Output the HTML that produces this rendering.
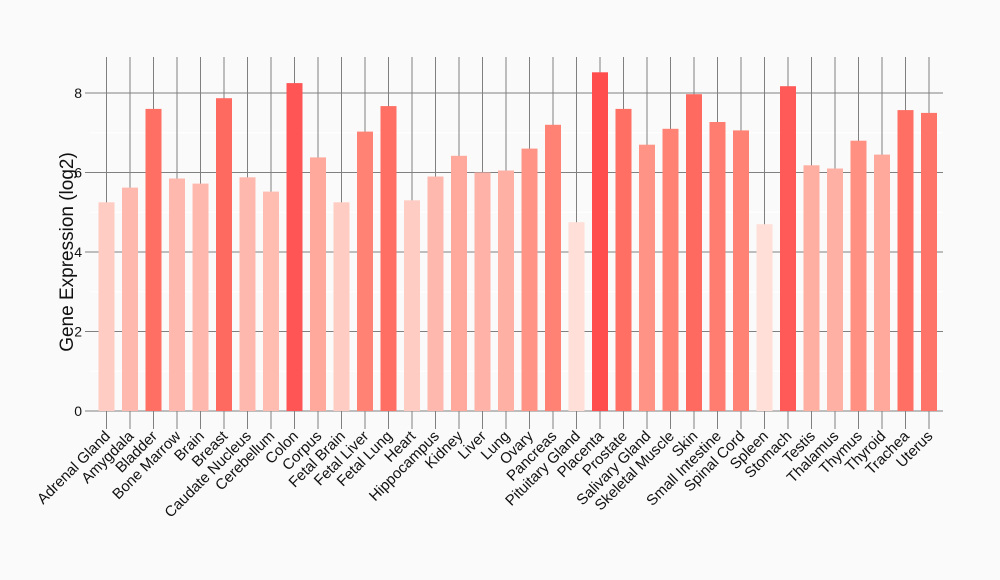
<!DOCTYPE html>
<html><head><meta charset="utf-8"><style>body{margin:0;background:#fafafa}svg{display:block}</style></head>
<body>
<svg width="1000" height="580" xmlns="http://www.w3.org/2000/svg" font-family="Liberation Sans, Arial, sans-serif">
<rect width="1000" height="580" fill="#fafafa"/>
<g stroke="#ffffff" stroke-width="1">
<line x1="90" x2="943" y1="371.25" y2="371.25"/><line x1="90" x2="943" y1="291.75" y2="291.75"/><line x1="90" x2="943" y1="212.25" y2="212.25"/><line x1="90" x2="943" y1="132.75" y2="132.75"/>
</g>
<g stroke="#808080" stroke-width="1">
<line x1="90" x2="943" y1="411" y2="411"/><line x1="90" x2="943" y1="331.5" y2="331.5"/><line x1="90" x2="943" y1="252" y2="252"/><line x1="90" x2="943" y1="172.5" y2="172.5"/><line x1="90" x2="943" y1="93" y2="93"/>
<line x1="85" x2="90" y1="411" y2="411"/><line x1="85" x2="90" y1="331.5" y2="331.5"/><line x1="85" x2="90" y1="252" y2="252"/><line x1="85" x2="90" y1="172.5" y2="172.5"/><line x1="85" x2="90" y1="93" y2="93"/>
<line x1="106.5" x2="106.5" y1="57" y2="429"/><line x1="130" x2="130" y1="57" y2="429"/><line x1="153.5" x2="153.5" y1="57" y2="429"/><line x1="177" x2="177" y1="57" y2="429"/><line x1="200.5" x2="200.5" y1="57" y2="429"/><line x1="224" x2="224" y1="57" y2="429"/><line x1="247.5" x2="247.5" y1="57" y2="429"/><line x1="271" x2="271" y1="57" y2="429"/><line x1="294.5" x2="294.5" y1="57" y2="429"/><line x1="318" x2="318" y1="57" y2="429"/><line x1="341.5" x2="341.5" y1="57" y2="429"/><line x1="365" x2="365" y1="57" y2="429"/><line x1="388.5" x2="388.5" y1="57" y2="429"/><line x1="412" x2="412" y1="57" y2="429"/><line x1="435.5" x2="435.5" y1="57" y2="429"/><line x1="459" x2="459" y1="57" y2="429"/><line x1="482.5" x2="482.5" y1="57" y2="429"/><line x1="506" x2="506" y1="57" y2="429"/><line x1="529.5" x2="529.5" y1="57" y2="429"/><line x1="553" x2="553" y1="57" y2="429"/><line x1="576.5" x2="576.5" y1="57" y2="429"/><line x1="600" x2="600" y1="57" y2="429"/><line x1="623.5" x2="623.5" y1="57" y2="429"/><line x1="647" x2="647" y1="57" y2="429"/><line x1="670.5" x2="670.5" y1="57" y2="429"/><line x1="694" x2="694" y1="57" y2="429"/><line x1="717.5" x2="717.5" y1="57" y2="429"/><line x1="741" x2="741" y1="57" y2="429"/><line x1="764.5" x2="764.5" y1="57" y2="429"/><line x1="788" x2="788" y1="57" y2="429"/><line x1="811.5" x2="811.5" y1="57" y2="429"/><line x1="835" x2="835" y1="57" y2="429"/><line x1="858.5" x2="858.5" y1="57" y2="429"/><line x1="882" x2="882" y1="57" y2="429"/><line x1="905.5" x2="905.5" y1="57" y2="429"/><line x1="929" x2="929" y1="57" y2="429"/>
</g>
<g>
<rect x="98.5" y="202.3" width="16" height="208.7" fill="#ffccc3"/>
<rect x="122" y="187.6" width="16" height="223.4" fill="#ffb8ad"/>
<rect x="145.5" y="108.9" width="16" height="302.1" fill="#ff6f64"/>
<rect x="169" y="178.5" width="16" height="232.5" fill="#ffb8ad"/>
<rect x="192.5" y="183.6" width="16" height="227.4" fill="#ffb8ad"/>
<rect x="216" y="98.2" width="16" height="312.8" fill="#ff6a60"/>
<rect x="239.5" y="177.3" width="16" height="233.7" fill="#ffb8ad"/>
<rect x="263" y="191.6" width="16" height="219.4" fill="#ffbcb1"/>
<rect x="286.5" y="83.1" width="16" height="327.9" fill="#ff5555"/>
<rect x="310" y="157.4" width="16" height="253.6" fill="#ffa99d"/>
<rect x="333.5" y="202.3" width="16" height="208.7" fill="#ffccc3"/>
<rect x="357" y="131.6" width="16" height="279.4" fill="#ff8274"/>
<rect x="380.5" y="106.1" width="16" height="304.9" fill="#ff6f64"/>
<rect x="404" y="200.3" width="16" height="210.7" fill="#ffccc3"/>
<rect x="427.5" y="176.5" width="16" height="234.5" fill="#ffb8ad"/>
<rect x="451" y="155.8" width="16" height="255.2" fill="#ffa99d"/>
<rect x="474.5" y="172.5" width="16" height="238.5" fill="#ffb2a7"/>
<rect x="498" y="170.5" width="16" height="240.5" fill="#ffb0a5"/>
<rect x="521.5" y="148.6" width="16" height="262.4" fill="#ff9486"/>
<rect x="545" y="124.8" width="16" height="286.2" fill="#ff8274"/>
<rect x="568.5" y="222.2" width="16" height="188.8" fill="#ffdfd7"/>
<rect x="592" y="72.3" width="16" height="338.7" fill="#ff4d4d"/>
<rect x="615.5" y="108.9" width="16" height="302.1" fill="#ff6f64"/>
<rect x="639" y="144.7" width="16" height="266.3" fill="#ff9486"/>
<rect x="662.5" y="128.8" width="16" height="282.2" fill="#ff8274"/>
<rect x="686" y="94.2" width="16" height="316.8" fill="#ff6a60"/>
<rect x="709.5" y="122" width="16" height="289" fill="#ff7d70"/>
<rect x="733" y="130.4" width="16" height="280.6" fill="#ff8274"/>
<rect x="756.5" y="224.2" width="16" height="186.8" fill="#ffdfd7"/>
<rect x="780" y="86.2" width="16" height="324.8" fill="#ff5a58"/>
<rect x="803.5" y="165.3" width="16" height="245.7" fill="#ffaea2"/>
<rect x="827" y="168.5" width="16" height="242.5" fill="#ffb0a5"/>
<rect x="850.5" y="140.7" width="16" height="270.3" fill="#ff9082"/>
<rect x="874" y="154.6" width="16" height="256.4" fill="#ffa99d"/>
<rect x="897.5" y="110.1" width="16" height="300.9" fill="#ff6f64"/>
<rect x="921" y="112.9" width="16" height="298.1" fill="#ff7468"/>
</g>
<g font-size="14" fill="#111" text-anchor="end">
<text x="82" y="416">0</text><text x="82" y="336.5">2</text><text x="82" y="257">4</text><text x="82" y="177.5">6</text><text x="82" y="98">8</text>
</g>
<text transform="translate(73,252) rotate(-90)" font-size="19" text-anchor="middle" fill="#111">Gene Expression (log2)</text>
<g font-size="15" fill="#111" text-anchor="end">
<text transform="translate(111,437) rotate(-45)">Adrenal Gland</text>
<text transform="translate(134.5,437) rotate(-45)">Amygdala</text>
<text transform="translate(158,437) rotate(-45)">Bladder</text>
<text transform="translate(181.5,437) rotate(-45)">Bone Marrow</text>
<text transform="translate(205,437) rotate(-45)">Brain</text>
<text transform="translate(228.5,437) rotate(-45)">Breast</text>
<text transform="translate(252,437) rotate(-45)">Caudate Nucleus</text>
<text transform="translate(275.5,437) rotate(-45)">Cerebellum</text>
<text transform="translate(299,437) rotate(-45)">Colon</text>
<text transform="translate(322.5,437) rotate(-45)">Corpus</text>
<text transform="translate(346,437) rotate(-45)">Fetal Brain</text>
<text transform="translate(369.5,437) rotate(-45)">Fetal Liver</text>
<text transform="translate(393,437) rotate(-45)">Fetal Lung</text>
<text transform="translate(416.5,437) rotate(-45)">Heart</text>
<text transform="translate(440,437) rotate(-45)">Hippocampus</text>
<text transform="translate(463.5,437) rotate(-45)">Kidney</text>
<text transform="translate(487,437) rotate(-45)">Liver</text>
<text transform="translate(510.5,437) rotate(-45)">Lung</text>
<text transform="translate(534,437) rotate(-45)">Ovary</text>
<text transform="translate(557.5,437) rotate(-45)">Pancreas</text>
<text transform="translate(581,437) rotate(-45)">Pituitary Gland</text>
<text transform="translate(604.5,437) rotate(-45)">Placenta</text>
<text transform="translate(628,437) rotate(-45)">Prostate</text>
<text transform="translate(651.5,437) rotate(-45)">Salivary Gland</text>
<text transform="translate(675,437) rotate(-45)">Skeletal Muscle</text>
<text transform="translate(698.5,437) rotate(-45)">Skin</text>
<text transform="translate(722,437) rotate(-45)">Small Intestine</text>
<text transform="translate(745.5,437) rotate(-45)">Spinal Cord</text>
<text transform="translate(769,437) rotate(-45)">Spleen</text>
<text transform="translate(792.5,437) rotate(-45)">Stomach</text>
<text transform="translate(816,437) rotate(-45)">Testis</text>
<text transform="translate(839.5,437) rotate(-45)">Thalamus</text>
<text transform="translate(863,437) rotate(-45)">Thymus</text>
<text transform="translate(886.5,437) rotate(-45)">Thyroid</text>
<text transform="translate(910,437) rotate(-45)">Trachea</text>
<text transform="translate(933.5,437) rotate(-45)">Uterus</text>
</g>
</svg>
</body></html>
